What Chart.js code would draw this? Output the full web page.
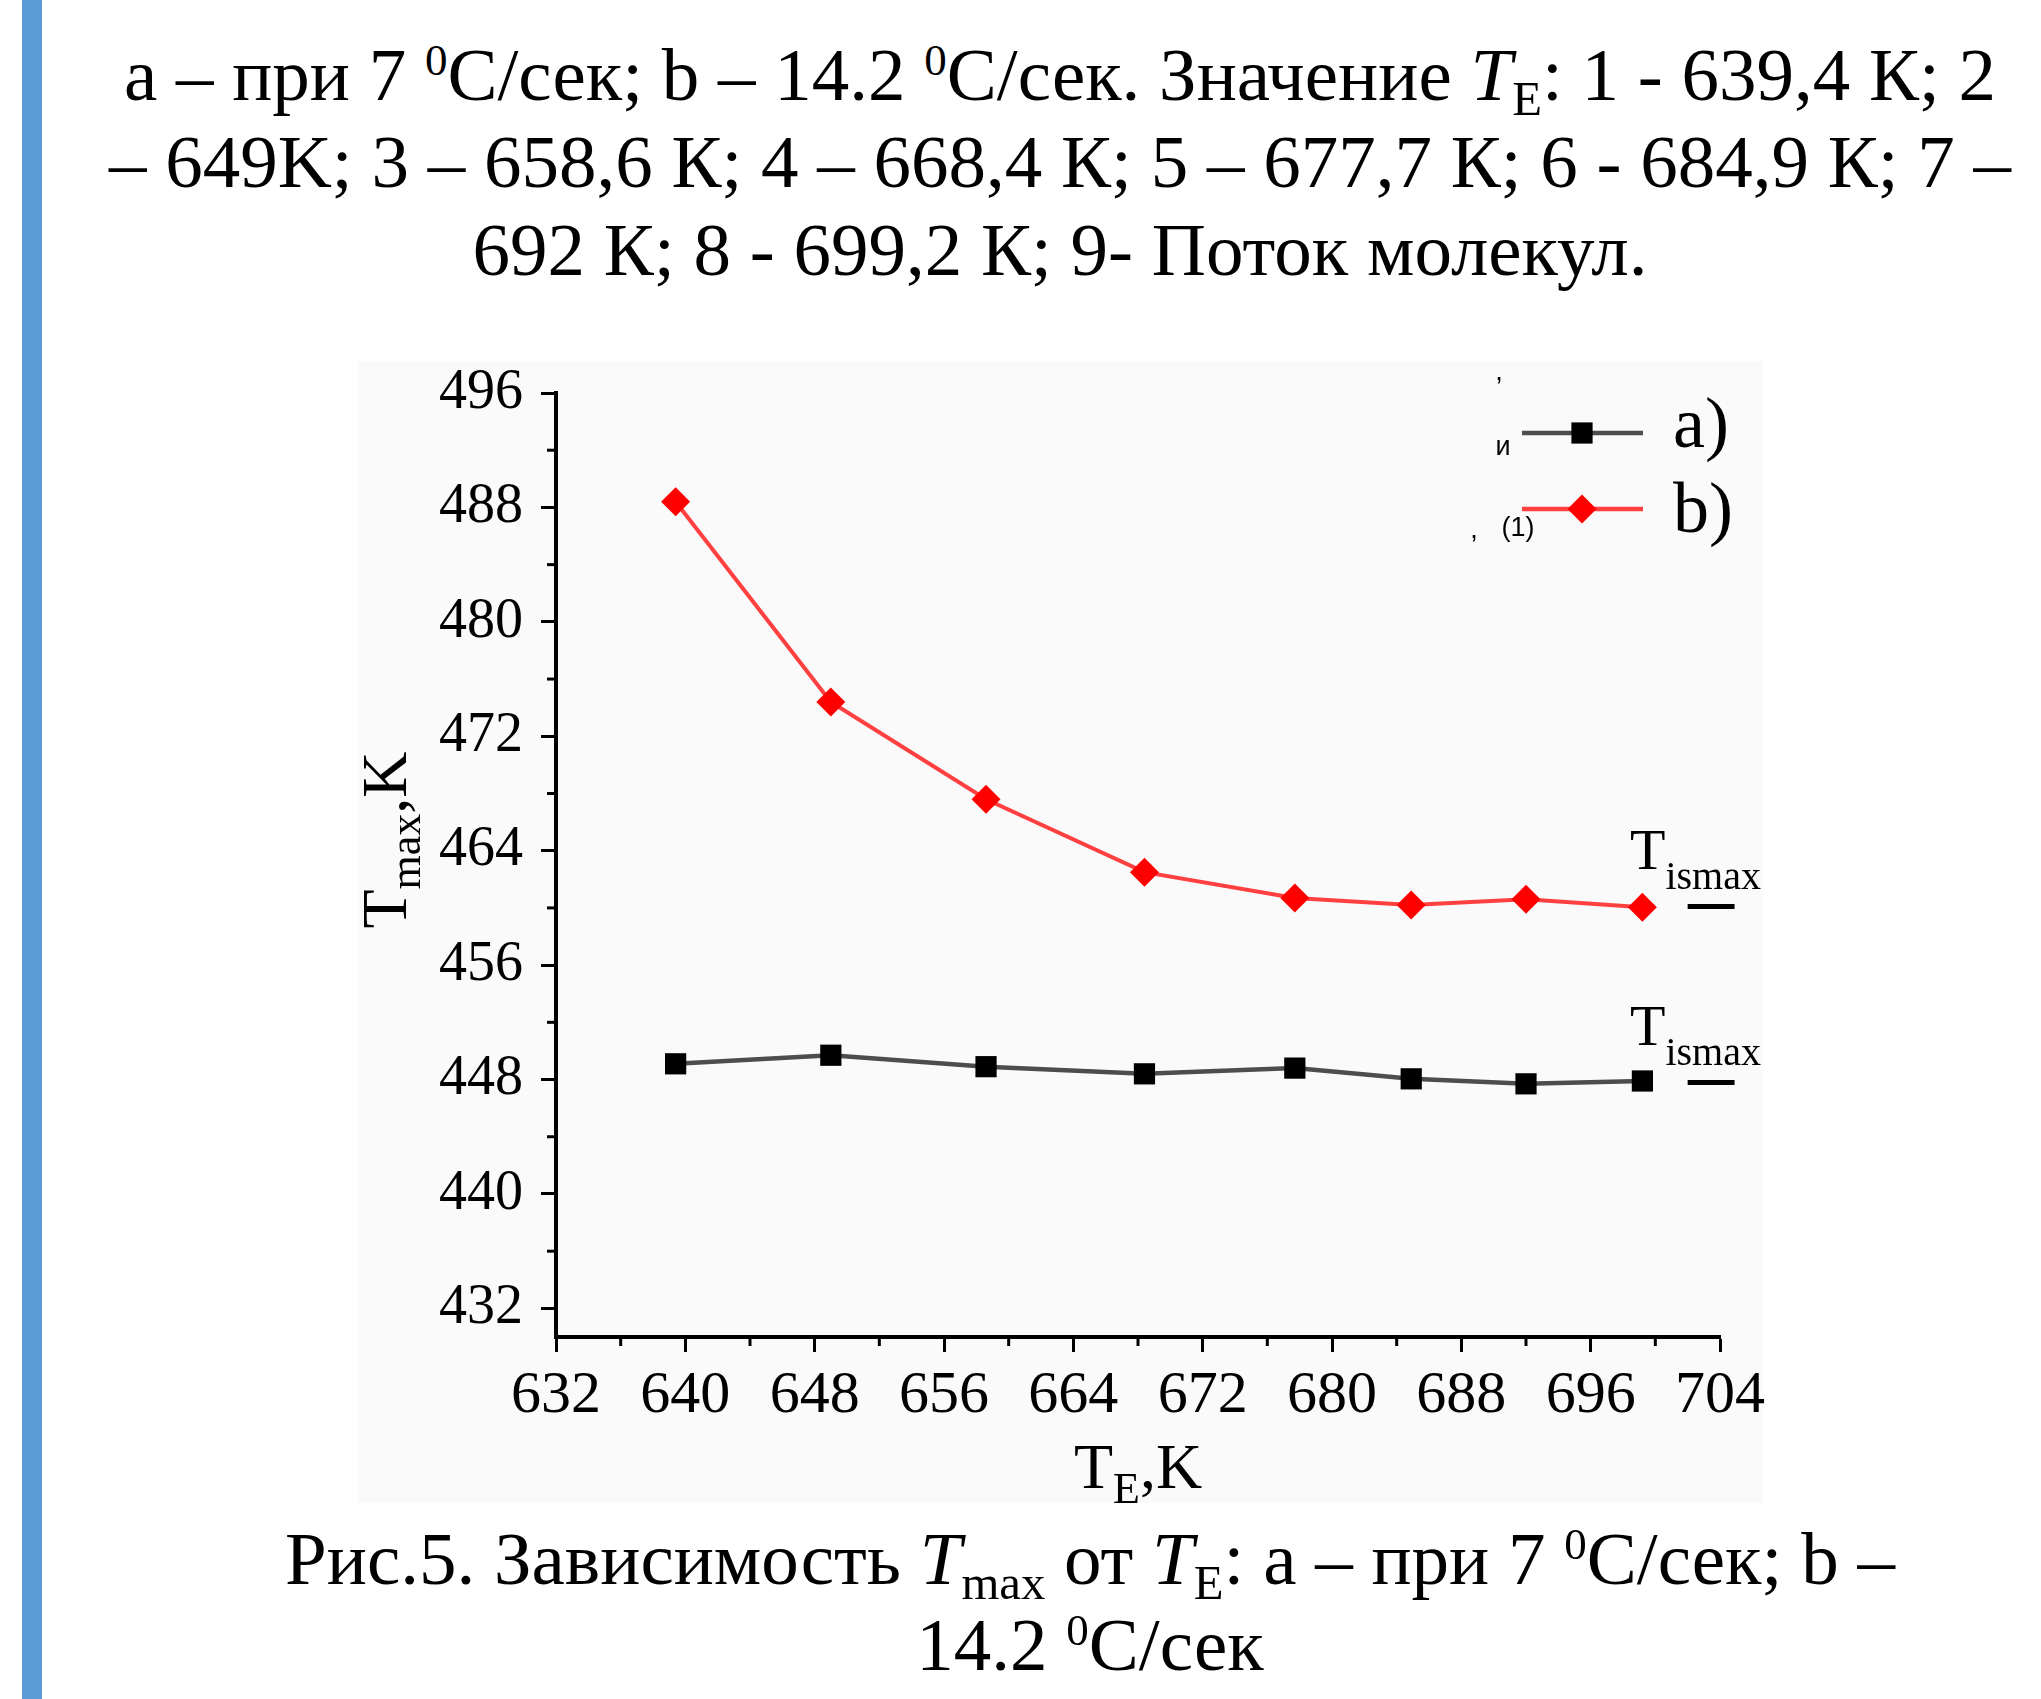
<!DOCTYPE html>
<html>
<head>
<meta charset="utf-8">
<script src="https://cdn.jsdelivr.net/npm/chart.js@4/dist/chart.umd.min.js"></script>
<style>
  html, body { margin:0; padding:0; background:#fff; width:2041px; height:1699px; overflow:hidden; }
  .bar { position:absolute; left:22px; top:0; width:20px; height:1699px; background:#5b9bd5; }
  .txt { position:absolute; white-space:nowrap; text-align:center; font-family:"Liberation Serif","Times New Roman",serif; font-size:75px; line-height:75px; color:#000; }
  .txt sup { font-size:0.6em; vertical-align:0.55em; line-height:0; }
  .txt sub { font-size:0.65em; vertical-align:-0.3em; line-height:0; }
  #panel { position:absolute; left:358px; top:361px; width:1405px; height:1142px; background:#fafafa; }
  #wrap { position:absolute; left:300px; top:330px; width:1560px; height:1200px; }
</style>
</head>
<body>
<div class="bar"></div>
<div class="txt" style="left:60px;width:2000px;top:37px;">a – при 7 <sup>0</sup>С/сек; b – 14.2 <sup>0</sup>С/сек. Значение <i>T</i><sub>E</sub>: 1 - 639,4 К; 2</div>
<div class="txt" style="left:60px;width:2000px;top:124px;">– 649K; 3 – 658,6 К; 4 – 668,4 К; 5 – 677,7 К; 6 - 684,9 К; 7 –</div>
<div class="txt" style="left:60px;width:2000px;top:212px;">692 К; 8 - 699,2 К; 9- Поток молекул.</div>
<div id="panel"></div>
<div id="wrap"><canvas id="c" width="1560" height="1200"></canvas></div>
<div class="txt" style="left:90px;width:2000px;top:1521px;">Рис.5. Зависимость <i>T</i><sub>max</sub> от <i>T</i><sub>E</sub>: a – при 7 <sup>0</sup>С/сек; b –</div>
<div class="txt" style="left:90px;width:2000px;top:1607px;">14.2 <sup>0</sup>С/сек</div>
<script>
// ---- data ----
const xValues = [639.4, 649, 658.6, 668.4, 677.7, 684.9, 692, 699.2];
const seriesA = [449.1, 449.7, 448.9, 448.4, 448.8, 448.05, 447.7, 447.9];
const seriesB = [488.4, 474.4, 467.6, 462.5, 460.7, 460.2, 460.6, 460.05];
const seriesLabels = ['a)', 'b)'];
const tismaxA = 447.8;
const tismaxB = 460.1;
const tismaxX = [702, 704.9];
const tismaxLabel = ['T', 'ismax'];
const xTicks = [632, 640, 648, 656, 664, 672, 680, 688, 696, 704];
const yTicks = [432, 440, 448, 456, 464, 472, 480, 488, 496];
const xMinor = [636, 644, 652, 660, 668, 676, 684, 692, 700];
const yMinor = [436, 444, 452, 460, 468, 476, 484, 492];
const xTitle = ['T', 'E', ',K'];
const yTitle = ['T', 'max', ',K'];

const SERIF = '"Liberation Serif","Times New Roman",serif';
const SANS = '"Liberation Sans","Open Sans",sans-serif';

function pts(xs, ys) { return xs.map((x, i) => ({x: x, y: ys[i]})); }

function drawMarker(ctx, style, r, x, y, color) {
  ctx.save();
  ctx.fillStyle = color;
  ctx.beginPath();
  if (style === 'rect') {
    const s = Math.SQRT1_2 * r;
    ctx.rect(x - s, y - s, 2 * s, 2 * s);
  } else {
    ctx.moveTo(x, y - r); ctx.lineTo(x + r, y); ctx.lineTo(x, y + r); ctx.lineTo(x - r, y); ctx.closePath();
  }
  ctx.fill();
  ctx.restore();
}

// text with subscript: parts [main, sub, tail]
function subText(ctx, parts, big, small, dy, x, y, align) {
  ctx.font = big + 'px ' + SERIF;
  const w0 = ctx.measureText(parts[0]).width;
  const w2 = parts[2] ? ctx.measureText(parts[2]).width : 0;
  ctx.font = small + 'px ' + SERIF;
  const w1 = ctx.measureText(parts[1]).width;
  const total = w0 + w1 + w2;
  let sx = align === 'center' ? x - total / 2 : x;
  ctx.textAlign = 'left';
  ctx.textBaseline = 'alphabetic';
  ctx.font = big + 'px ' + SERIF;
  ctx.fillText(parts[0], sx, y);
  ctx.font = small + 'px ' + SERIF;
  ctx.fillText(parts[1], sx + w0, y + dy);
  if (parts[2]) { ctx.font = big + 'px ' + SERIF; ctx.fillText(parts[2], sx + w0 + w1, y); }
}

const extras = {
  id: 'extras',
  afterDraw(chart) {
    const ctx = chart.ctx;
    const xs = chart.scales.x, ys = chart.scales.y;
    const a = chart.chartArea;
    ctx.save();
    ctx.fillStyle = '#000';
    ctx.strokeStyle = '#000';
    // minor ticks
    ctx.lineWidth = 3;
    yMinor.forEach(v => {
      const p = ys.getPixelForValue(v);
      ctx.beginPath(); ctx.moveTo(a.left - 9, p); ctx.lineTo(a.left, p); ctx.stroke();
    });
    xMinor.forEach(v => {
      const p = xs.getPixelForValue(v);
      ctx.beginPath(); ctx.moveTo(p, a.bottom); ctx.lineTo(p, a.bottom + 9); ctx.stroke();
    });
    // axis titles
    subText(ctx, xTitle, 64, 44, 15, (a.left + a.right) / 2, a.bottom + 151, 'center');
    ctx.save();
    ctx.translate(a.left - 150, a.top + 447);
    ctx.rotate(-Math.PI / 2);
    subText(ctx, yTitle, 64, 44, 14, 0, 0, 'center');
    ctx.restore();
    // T_ismax labels
    [tismaxB, tismaxA].forEach(v => {
      const p = ys.getPixelForValue(v);
      subText(ctx, tismaxLabel, 58, 40, 20, a.right - 90, p - 37, 'left');
    });
    // legend
    const ds = chart.data.datasets;
    [[0, 40, 54], [1, 116, 139]].forEach(([i, ly, ty]) => {
      const d = ds[i];
      ctx.strokeStyle = d.borderColor;
      ctx.lineWidth = 4.5;
      ctx.beginPath(); ctx.moveTo(a.right - 198, a.top + ly); ctx.lineTo(a.right - 77, a.top + ly); ctx.stroke();
      drawMarker(ctx, d.pointStyle, d.pointRadius, a.right - 138, a.top + ly, d.pointBackgroundColor);
      ctx.fillStyle = '#000';
      ctx.font = '72px ' + SERIF;
      ctx.textAlign = 'left';
      ctx.textBaseline = 'alphabetic';
      ctx.fillText(d.label, a.right - 47, a.top + ty);
    });
    // stray marks from the source figure
    ctx.fillStyle = '#000';
    ctx.font = '27px ' + SANS;
    ctx.textAlign = 'center';
    ctx.textBaseline = 'middle';
    ctx.fillText(',', a.right - 221, a.top - 20);
    ctx.fillText('и', a.right - 217, a.top + 55);
    ctx.fillText(',', a.right - 246, a.top + 138);
    ctx.fillText('(1)', a.right - 202, a.top + 136);
    ctx.restore();
  }
};

const tickFont = (s) => ({family: SERIF, size: s, lineHeight: 1});

new Chart(document.getElementById('c'), {
  type: 'line',
  data: {
    datasets: [
      { label: seriesLabels[0], data: pts(xValues, seriesA), borderColor: '#4d4d4d', borderWidth: 4.5,
        pointStyle: 'rect', pointRadius: 15, pointBackgroundColor: '#000', pointBorderWidth: 0, pointHoverRadius: 15 },
      { label: seriesLabels[1], data: pts(xValues, seriesB), borderColor: '#ff4040', borderWidth: 4,
        pointStyle: 'rectRot', pointRadius: 14.5, pointBackgroundColor: '#ff0000', pointBorderWidth: 0, pointHoverRadius: 14.5 },
      { label: 'Tismax a', data: pts(tismaxX, [tismaxA, tismaxA]), borderColor: '#000', borderWidth: 5, pointRadius: 0, clip: false },
      { label: 'Tismax b', data: pts(tismaxX, [tismaxB, tismaxB]), borderColor: '#000', borderWidth: 5, pointRadius: 0, clip: false }
    ]
  },
  options: {
    responsive: false,
    animation: false,
    events: [],
    layout: { padding: { left: 106, right: 140, top: 63, bottom: 73 } },
    plugins: { legend: { display: false }, tooltip: { enabled: false } },
    scales: {
      x: {
        type: 'linear', min: 632, max: 704,
        afterFit: s => { s.height = 120; },
        afterBuildTicks: s => { s.ticks = xTicks.map(v => ({value: v})); },
        grid: { drawOnChartArea: false, drawTicks: true, tickLength: 15, tickWidth: 3, tickColor: '#000' },
        border: { color: '#000', width: 4 },
        ticks: { font: tickFont(60), color: '#000', padding: 14, maxRotation: 0, autoSkip: false }
      },
      y: {
        type: 'linear', min: 430, max: 496,
        afterFit: s => { s.width = 150; },
        afterBuildTicks: s => { s.ticks = yTicks.map(v => ({value: v})); },
        grid: { drawOnChartArea: false, drawTicks: true, tickLength: 15, tickWidth: 3, tickColor: '#000' },
        border: { color: '#000', width: 4 },
        ticks: { font: tickFont(56), color: '#000', padding: 18, autoSkip: false }
      }
    }
  },
  plugins: [extras]
});
</script>
</body>
</html>
